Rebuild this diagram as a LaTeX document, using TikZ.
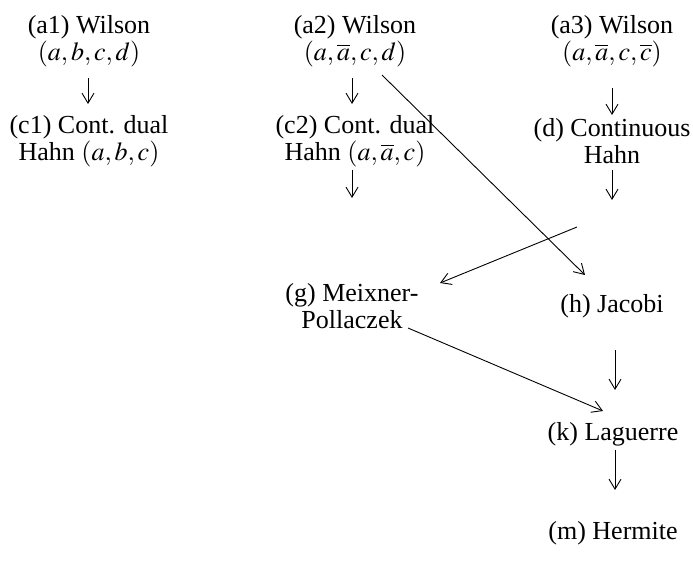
\documentclass[tikz,border=0pt]{standalone}
\usepackage{mathptmx}
\usepackage[no-math]{fontspec}
\setmainfont{Liberation Serif}
\usetikzlibrary{arrows.meta,calc}
\begin{document}
\begin{tikzpicture}[x=1pt,y=-1pt,
  lbl/.style={align=center,inner sep=0pt,font=\fontsize{26}{27.5}\selectfont},
  arr/.style={line width=0.9pt,-{Straight Barb[length=10pt,width=12pt,line width=0.9pt]}}]
\useasboundingbox (0,0) rectangle (693,574);
\node[lbl] (a1) at (89,41) {(a1) Wilson\\$(a,b,c,d)$};
\node[lbl] (a2) at (355,41) {(a2) Wilson\\$(a,\overline{a},c,d)$};
\node[lbl] (a3) at (612,41) {(a3) Wilson\\$(a,\overline{a},c,\overline{c})$};
\node[lbl] (c1) at (89,141) {(c1) Cont. dual\\Hahn $(a,b,c)$};
\node[lbl] (c2) at (355,141) {(c2) Cont. dual\\Hahn $(a,\overline{a},c)$};
\node[lbl] (d) at (612,141) {(d) Continuous\\Hahn};
\node[lbl] (g) at (352,306) {(g) Meixner-\\Pollaczek};
\node[lbl] (h) at (612,306) {(h) Jacobi};
\node[lbl] (k) at (613,434) {(k) Laguerre};
\node[lbl] (m) at (613,533) {(m) Hermite};
\coordinate (p1) at (88,78);  \coordinate (q1) at (88,104);
\coordinate (p2) at (352,78); \coordinate (q2) at (352,104);
\coordinate (p3) at (612,88); \coordinate (q3) at (612,115);
\coordinate (p4) at (352,170); \coordinate (q4) at (352,198);
\coordinate (p5) at (612,170); \coordinate (q5) at (612,200);
\coordinate (p6) at (615,350); \coordinate (q6) at (615,390);
\coordinate (p7) at (615,450); \coordinate (q7) at (615,490);
\coordinate (s1) at (382,75);  \coordinate (t1) at (585,275);
\coordinate (s2) at (577,227); \coordinate (t2) at (440,283);
\coordinate (s3) at (408,328); \coordinate (t3) at (603,411);
\draw[arr] (p1) -- (q1);
\draw[arr] (p2) -- (q2);
\draw[arr] (p3) -- (q3);
\draw[arr] (p4) -- (q4);
\draw[arr] (p5) -- (q5);
\draw[arr] (p6) -- (q6);
\draw[arr] (p7) -- (q7);
\draw[arr] (s1) -- (t1);
\draw[arr] (s2) -- (t2);
\draw[arr] (s3) -- (t3);
\end{tikzpicture}
\end{document}
